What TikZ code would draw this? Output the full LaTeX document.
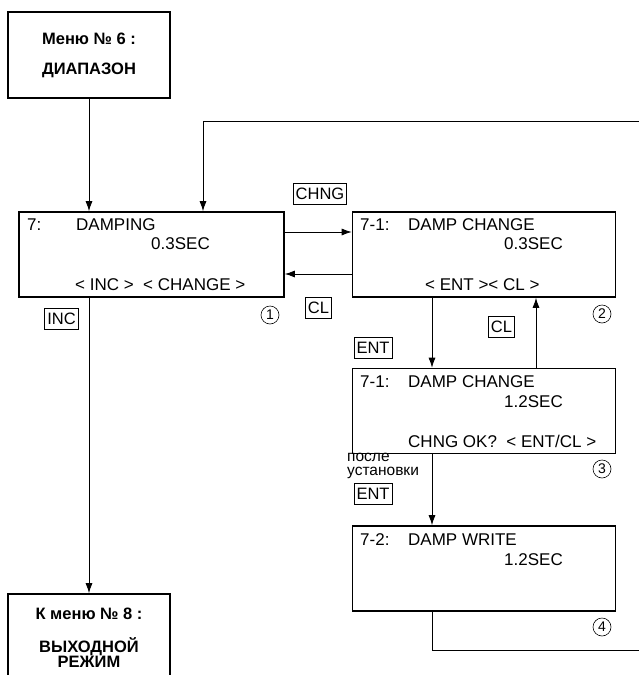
\documentclass[tikz,border=0pt]{standalone}
\usepackage{fontspec}
\setmainfont{Liberation Sans}
\usetikzlibrary{arrows.meta,positioning}
\tikzset{
  menubox/.style={draw, line width=1.6pt, minimum width=162pt, inner sep=0pt,
     align=center, font=\bfseries\fontsize{16.5}{15}\selectfont},
  lcd/.style={draw, line width=1.6pt, minimum width=263pt, minimum height=85pt, inner sep=0pt},
  lcdtext/.style={anchor=base west, inner sep=0pt, font=\fontsize{17}{17}\selectfont},
  keybox/.style={draw, line width=0.7pt, inner xsep=2.5pt, inner ysep=0pt,
     minimum height=21pt, font=\fontsize{16.5}{16.5}\selectfont},
  stepno/.style={circle, draw, line width=0.6pt, inner sep=0pt, minimum size=18pt,
     font=\fontsize{14}{14}\selectfont},
  flow/.style={-{Latex[length=10pt,width=7pt]}, line width=0.8pt},
}

\begin{document}
\begin{tikzpicture}[x=1pt, y=-1pt]
  \useasboundingbox (0,0) rectangle (638,675);
  % menu boxes
  \node[menubox, minimum height=86pt] (menu6) at (89,55) {Меню № 6 :\\[15pt]ДИАПАЗОН};
  \node[menubox, minimum height=106pt] (menu8) at (89,647) {};
  \node[font=\bfseries\fontsize{16.5}{15}\selectfont, align=center] (menu8txt) at (89,638)
    {К меню № 8 :\\[17pt]ВЫХОДНОЙ\\РЕЖИМ};
  % display screens
  \node[lcd, minimum width=265pt] (damp) at (151.5,254.5) {};
  \node[lcd] (change) at (484,254.5) {};
  \node[lcd] (confirm) at (484,411) {};
  \node[lcd] (write) at (484,568.5) {};
  % screen 1
  \node[lcdtext] (d1) at (27,230) {7:};
  \node[lcdtext] (d2) at (76,230) {DAMPING};
  \node[lcdtext] (d3) at (151,249) {0.3SEC};
  \node[lcdtext] (d4) at (75,290) {< INC >\ \ < CHANGE >};
  % screen 2
  \node[lcdtext] (c1) at (360,230) {7-1:};
  \node[lcdtext] (c2) at (408,230) {DAMP CHANGE};
  \node[lcdtext] (c3) at (504,249) {0.3SEC};
  \node[lcdtext] (c4) at (425,290) {< ENT >< CL >};
  % screen 3
  \node[lcdtext] (o1) at (360,387) {7-1:};
  \node[lcdtext] (o2) at (408,387) {DAMP CHANGE};
  \node[lcdtext] (o3) at (504,407) {1.2SEC};
  \node[lcdtext] (o4) at (408,447) {CHNG OK?\ \ < ENT/CL >};
  % screen 4
  \node[lcdtext] (w1) at (360,545) {7-2:};
  \node[lcdtext] (w2) at (408,545) {DAMP WRITE};
  \node[lcdtext] (w3) at (504,565) {1.2SEC};
  % keys
  \node[keybox] (kchng) at (320,194) {CHNG};
  \node[keybox] (kcl1) at (318.5,308) {CL};
  \node[keybox] (kinc) at (61.5,319) {INC};
  \node[keybox] (kcl2) at (501.5,327) {CL};
  \node[keybox] (kent1) at (373,348) {ENT};
  \node[keybox] (kent2) at (373,493.5) {ENT};
  \node[font=\fontsize{15.5}{14.5}\selectfont, align=left, anchor=north west, inner sep=0pt]
    (after) at (347,452.5) {после\\установки};
  % step numbers
  \node[stepno] (s1) at (270,315) {1};
  \node[stepno] (s2) at (602,314) {2};
  \node[stepno] (s3) at (602,469) {3};
  \node[stepno] (s4) at (602,627) {4};
  % connectors
  \draw[flow] (menu6.south) -- (menu6.south |- damp.north);
  \draw[flow] ([yshift=22.5pt]damp.east) -- ([yshift=22.5pt]damp.east -| change.west);
  \draw[flow] ([yshift=-19.5pt]change.west) -- ([yshift=-19.5pt]change.west -| damp.east);
  \draw[flow] (damp.south -| menu6.south) -- (menu8.north);
  \draw[flow] ([xshift=-52pt]change.south) -- ([xshift=-52pt]confirm.north);
  \draw[flow] ([xshift=52pt]confirm.north) -- ([xshift=52pt]change.south);
  \draw[flow] ([xshift=-52pt]confirm.south) -- ([xshift=-52pt]write.north);
  \coordinate (backlow) at (641,650);
  \coordinate (backhigh) at (641,121);
  \draw[flow] ([xshift=-52pt]write.south) |- (backlow) -- (backhigh) -| ([xshift=51.5pt]damp.north);
\end{tikzpicture}
\end{document}
